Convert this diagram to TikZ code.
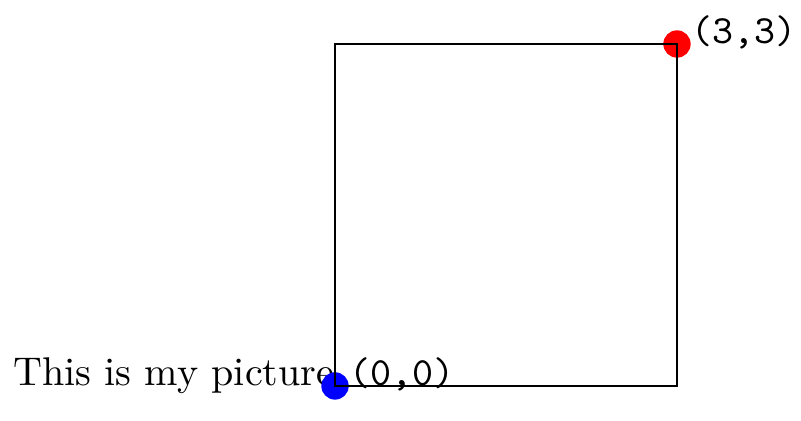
\documentclass[tikz,border=0pt]{standalone}
\usepackage{tikz}

\tikzset{
  coordlabel/.style={anchor=base west, font=\ttfamily},
}

\begin{document}
\begin{tikzpicture}
\pgfmathsetmacro{\side}{3}
\pgfmathsetmacro{\dotr}{0.12}
\useasboundingbox (-2.939,-0.307) rectangle (4.088,3.386);
\coordinate (origin) at (0,0);
\coordinate (corner) at (\side,\side);
\node[anchor=base east, inner sep=0pt] (caption) at (origin) {This is my picture};
\fill[blue] (origin) circle (\dotr);
\fill[red] (corner) circle (\dotr);
\draw (origin) rectangle (corner);
\node[coordlabel] (originlabel) at (origin) {(0,0)};
\node[coordlabel] (cornerlabel) at (corner) {(3,3)};
\end{tikzpicture}
\end{document}
